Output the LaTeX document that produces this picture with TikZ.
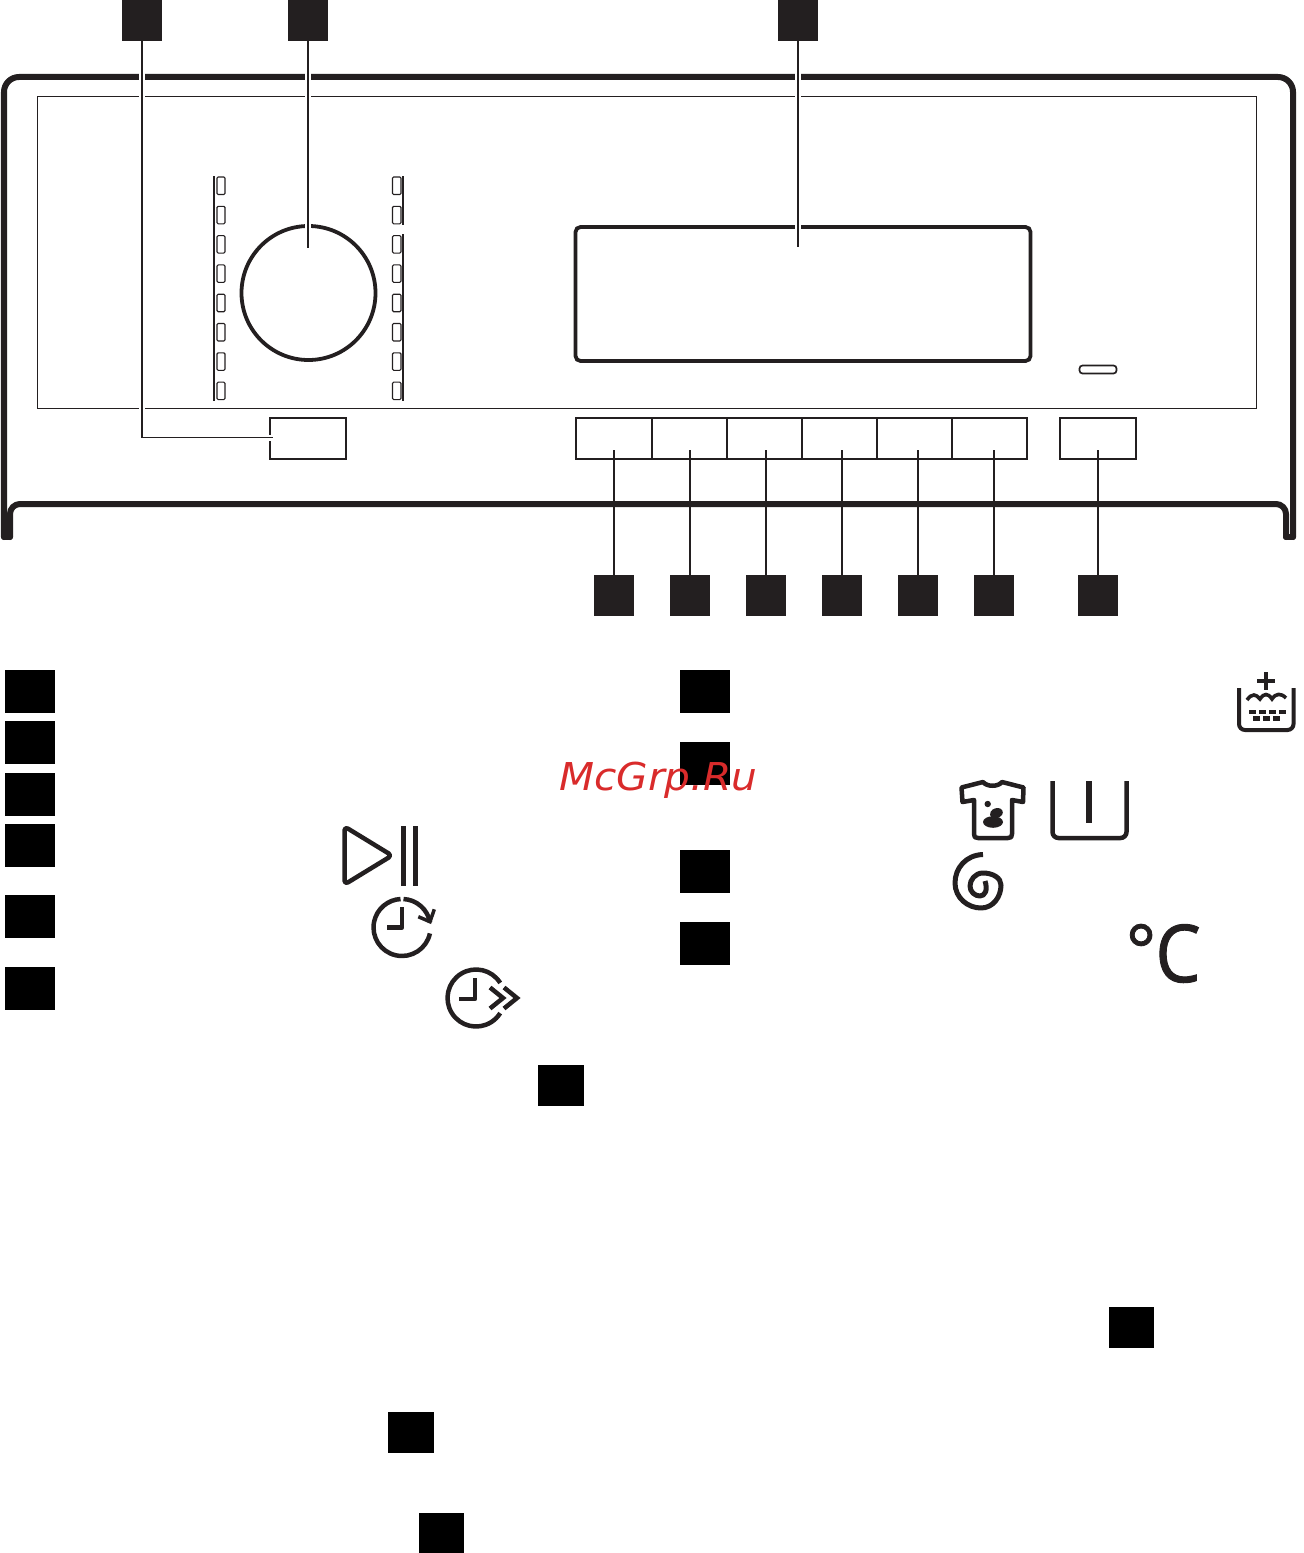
\documentclass[tikz,border=0pt]{standalone}
\usepackage{fontspec}
\newfontfamily\wmfont[FakeStretch=1.06]{DejaVu Sans}
\newfontfamily\degfont[FakeBold=1.2]{Open Sans}
\definecolor{ink}{HTML}{231F20}
\definecolor{wm}{HTML}{D92B2B}
\tikzset{
  tagbox/.style={fill=ink,draw=none,inner sep=0pt,minimum width=40bp,minimum height=41bp},
  legbox/.style={fill=black,draw=none,inner sep=0pt,minimum width=50bp,minimum height=43bp},
  refbox/.style={fill=black,draw=none,inner sep=0pt,minimum width=46bp,minimum height=41bp},
  button/.style={draw=ink,line width=1.6bp,inner sep=0pt,minimum height=41bp},
  leader/.style={draw=ink,line width=1.7bp},
  halo/.style={draw=white,line width=6bp},
  heavy/.style={draw=ink,line width=6bp,line join=round,line cap=round},
  icon/.style={draw=ink,line width=4.5bp,line join=round},
  led/.style={draw=ink,line width=1.1bp,rounded corners=1.2bp},
  railline/.style={draw=ink,line width=1.6bp}
}
\begin{document}
\begin{tikzpicture}[x=1bp,y=-1bp]
\useasboundingbox (0,0) rectangle (1304,1553);
% panel
\draw[heavy,rounded corners=15bp] (4,537) -- (4,77) -- (1293,77) -- (1293,537);
\draw[heavy,rounded corners=10bp] (10,537) -- (10,504) -- (1286,504) -- (1286,537);
\draw[heavy] (4,537) -- (10,537);
\draw[heavy] (1286,537) -- (1293,537);
\draw[draw=ink,line width=1.3bp] (37.5,96.5) rectangle (1256.5,408.5);
% LEDs
\foreach \n in {0,...,7}{
  \draw[led] (217,{177+29.3*\n}) rectangle (225,{194.5+29.3*\n});
  \draw[led] (392.5,{177+29.3*\n}) rectangle (401,{194.5+29.3*\n});
}
\draw[railline] (214,176) -- (214,401);
\draw[railline] (402.7,176) -- (402.7,225);
\draw[railline] (402.7,234) -- (402.7,401);
% knob and display
\node[circle,draw=ink,line width=3.8bp,inner sep=0pt,minimum size=134bp] (knob) at (308.5,293) {};
\node[draw=ink,line width=3.8bp,rounded corners=5bp,inner sep=0pt,minimum width=455bp,minimum height=134bp] (display) at (803,294) {};
\node[draw=ink,line width=1.7bp,rounded corners=3bp,inner sep=0pt,minimum width=37bp,minimum height=8bp] (pill) at (1098,369.5) {};
% buttons
\node[button,minimum width=76bp] (bmain) at (308,438.5) {};
\node[button,minimum width=76bp] (b1) at (614,438.5) {};
\node[button,minimum width=75bp] (b2) at (689.5,438.5) {};
\node[button,minimum width=75bp] (b3) at (764.5,438.5) {};
\node[button,minimum width=75bp] (b4) at (839.5,438.5) {};
\node[button,minimum width=75bp] (b5) at (914.5,438.5) {};
\node[button,minimum width=75bp] (b6) at (989.5,438.5) {};
\node[button,minimum width=76bp] (b7) at (1098,438.5) {};
% tags
\node[tagbox] (t1) at (142,20.5) {};
\node[tagbox] (t2) at (308,20.5) {};
\node[tagbox] (t3) at (798,20.5) {};
\node[tagbox] (u1) at (614,595.5) {};
\node[tagbox] (u2) at (690,595.5) {};
\node[tagbox] (u3) at (766,595.5) {};
\node[tagbox] (u4) at (842,595.5) {};
\node[tagbox] (u5) at (918,595.5) {};
\node[tagbox] (u6) at (994,595.5) {};
\node[tagbox] (u7) at (1098,595.5) {};
% leaders
\coordinate (c1) at (142,437.5);
\coordinate (c2) at (273,437.5);
\coordinate (c3) at (308,248);
\coordinate (c4) at (798,247);
\draw[halo] (t1.south) -- (c1) -- (c2);
\draw[leader] (t1.south) -- (c1) -- (c2);
\draw[halo] (t2.south) -- (c3);
\draw[leader] (t2.south) -- (c3);
\draw[halo] (t3.south) -- (c4);
\draw[leader] (t3.south) -- (c4);
\foreach \t/\x in {u1/614,u2/690,u3/766,u4/842,u5/918,u6/994,u7/1098}{
  \coordinate (e\t) at (\x,450);
  \draw[leader] (\t.north) -- (e\t);
}
% legend boxes
\node[legbox] (l1) at (30,691.5) {};
\node[legbox] (l2) at (30,742.5) {};
\node[legbox] (l3) at (30,794.5) {};
\node[legbox] (l4) at (30,845.5) {};
\node[legbox] (l5) at (30,916.5) {};
\node[legbox] (l6) at (30,988.5) {};
\node[legbox] (r1) at (705,691.5) {};
\node[legbox] (r2) at (705,763.5) {};
\node[legbox] (r3) at (705,871.5) {};
\node[legbox] (r4) at (705,943.5) {};
\node[refbox] (x1) at (561,1085.5) {};
\node[refbox,minimum width=45bp] (x2) at (1131.5,1327) {};
\node[refbox] (x3) at (411,1432) {};
\node[refbox,minimum width=45bp] (x4) at (441.5,1533) {};
% play/pause
\draw[icon,rounded corners=4bp] (344.5,826.5) -- (392,855.5) -- (344.5,884.5) -- cycle;
\fill[ink] (400.5,826) rectangle (405.5,886);
\fill[ink] (413,826) rectangle (418,886);
% clock 1
\draw[icon] (403.5,899) arc[start angle=-87,end angle=-10,radius=28.5];
\draw[icon] (429.9,933.4) arc[start angle=12,end angle=267,radius=28.5];
\draw[icon,line cap=butt] (402,907) -- (402,927.5) -- (386.5,927.5);
\draw[draw=ink,line width=3.5bp] (418.3,916.7) -- (430,921.7) -- (434.3,909.3);
% clock 2
\draw[icon] (500.2,982.9) arc[start angle=-32,end angle=-328,radius=28.5];
\draw[icon,line cap=butt] (475,978) -- (475,999) -- (459,999);
\draw[draw=ink,line width=4.5bp] (490,987.5) -- (503,998) -- (490,1008.5);
\draw[draw=ink,line width=4.5bp] (504,987.5) -- (517,998) -- (504,1008.5);
% softener
\draw[draw=ink,line width=4bp,rounded corners=6bp] (1239,688) -- (1239,730) -- (1293.5,730) -- (1293.5,688);
\fill[ink] (1257,679) rectangle (1275,683);
\fill[ink] (1264,672) rectangle (1268,690);
\draw[draw=ink,line width=3.6bp] (1247,700) .. controls (1252,693) and (1256,694) .. (1260,699) .. controls (1264,693) and (1268,693) .. (1272,699) .. controls (1276,693) and (1281,693) .. (1286,698);
\foreach \x in {1248.5,1258.5,1268.5,1278.5} \fill[ink] (\x,709.5) rectangle +(7.5,4.5);
\foreach \x in {1252.5,1262.5,1273} \fill[ink] (\x,716) rectangle +(7,5);
% shirt
\draw[icon] (961.5,787.5) -- (983,782) .. controls (987,787) and (998,787) .. (1002,782) -- (1023.5,787.5) -- (1023,802) -- (1012,800) -- (1012,834) .. controls (1012,837) and (1011,838) .. (1008,838) -- (978,838) .. controls (975,838) and (974,837) .. (974,834) -- (974,800) -- (962.5,802) -- cycle;
\fill[ink] (987.7,804) circle[radius=3.2];
\fill[ink] (993,822) ellipse[x radius=10,y radius=5.8];
\fill[ink] (990,815) .. controls (990,810) and (994,808) .. (998,808) .. controls (1002,808) and (1004,812) .. (1002,815) .. controls (1000,819) and (990,819) .. (990,815) -- cycle;
% tub
\draw[icon,rounded corners=6bp] (1052.5,781) -- (1052.5,838) -- (1126.5,838) -- (1126.5,781);
\fill[ink] (1086,781) rectangle (1092,823);
% spiral
\draw[draw=ink,line width=5bp,line join=round] (983,854.5) .. controls (966,855) and (955,868) .. (955,883) .. controls (955,898) and (968,908) .. (981,908) .. controls (993,908) and (1001,897) .. (1001,885) .. controls (1001,878) and (993,873) .. (983,873) .. controls (975,873) and (970,880) .. (970,886) .. controls (970,892) and (975,896) .. (980,896) .. controls (985,896) and (988,890) .. (985,881);
% degrees C
\node[anchor=base west,inner sep=0pt,text=ink] (degc) at (1125.5,982) {\degfont\fontsize{72}{72}\selectfont\raisebox{6bp}{°}\fontsize{80}{80}\selectfont\kern-1bp\scalebox{.9}[1]{C}};
% watermark
\node[anchor=base west,inner sep=0pt,text=wm] (mark) at (559,790) {\wmfont\itshape\fontsize{38.5}{38.5}\selectfont McGrp.Ru};
\end{tikzpicture}
\end{document}
